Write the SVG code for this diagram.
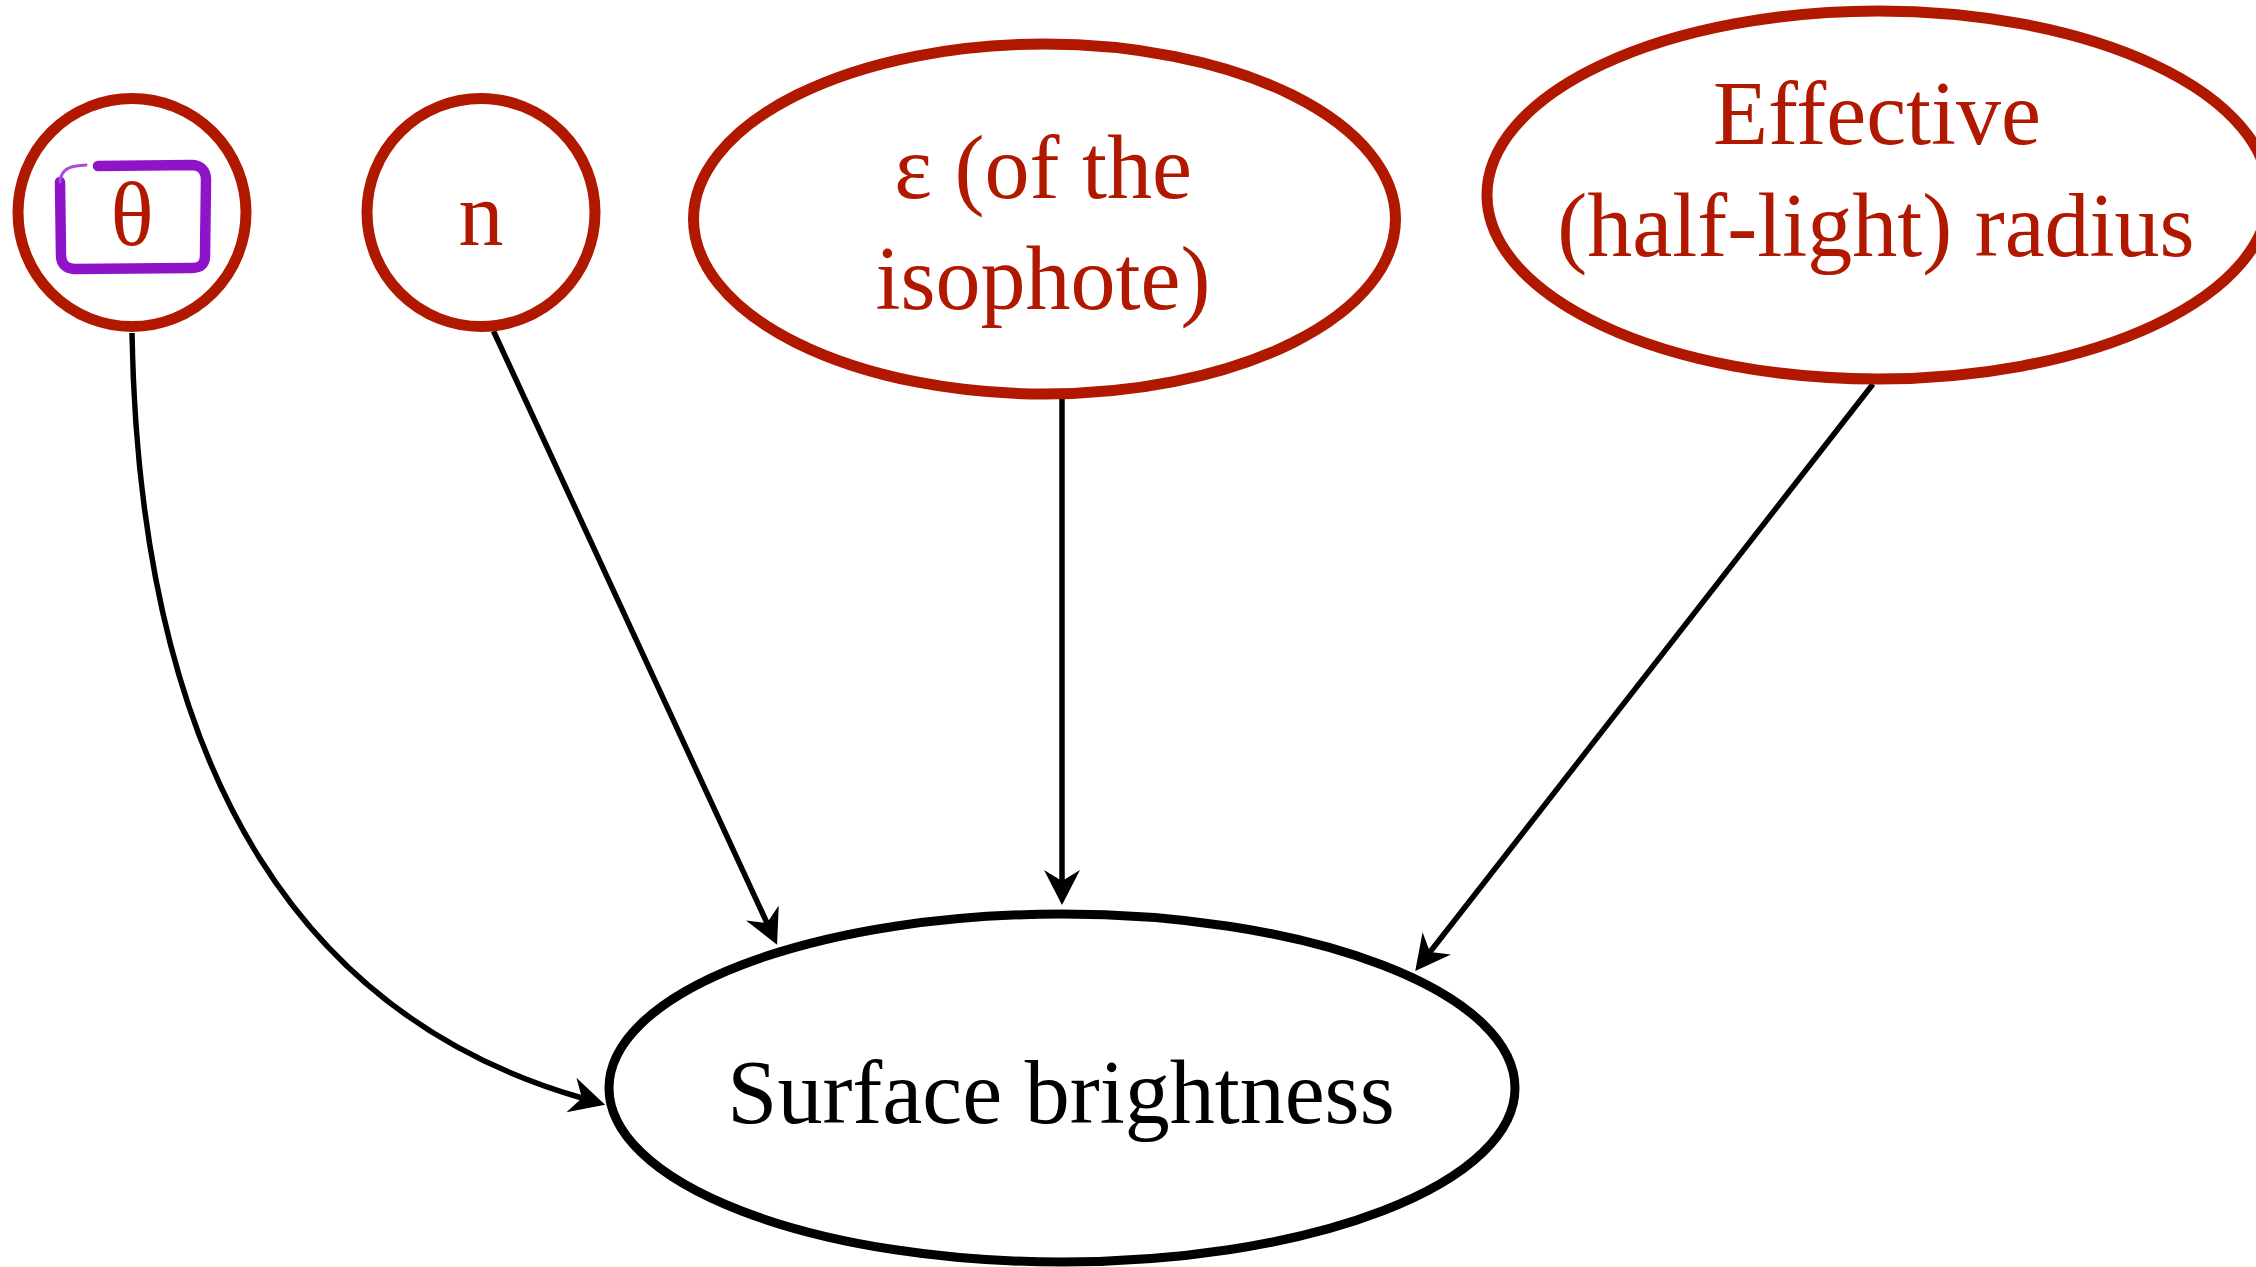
<svg xmlns="http://www.w3.org/2000/svg" width="2256" height="1267" viewBox="0 0 2256 1267">
<style>
.bg{fill:#ffffff}
.red{fill:#ffffff;stroke:#b01800;stroke-width:11}
.blk{fill:#ffffff;stroke:#000000;stroke-width:9}
.lbl{font-family:"Liberation Serif","Times New Roman",serif;font-size:90px;text-anchor:middle}
.rt{fill:#b01800}
.bt{fill:#000000}
.edge{fill:none;stroke:#000000;stroke-width:5.5}
.hl{fill:none;stroke:#8f14c9;stroke-width:10.5;stroke-linecap:round;stroke-linejoin:round}
.hlt{fill:none;stroke:#a64fd6;stroke-width:3;stroke-linecap:round}
</style>
<defs>
<marker id="arr" markerUnits="userSpaceOnUse" viewBox="0 0 36 38" refX="11" refY="19" markerWidth="36" markerHeight="38" orient="auto">
<path d="M0,1 L35,19 L0,37 L11,19 Z" fill="#000000"/>
</marker>
</defs>
<rect class="bg" x="0" y="0" width="2256" height="1267"/>
<g id="edges">
<path class="edge" d="M132,333 C140,790 314,1021 582,1098" marker-end="url(#arr)"/>
<path class="edge" d="M493.5,331 L767,923" marker-end="url(#arr)"/>
<path class="edge" d="M1062,398 L1062,881" marker-end="url(#arr)"/>
<path class="edge" d="M1873,384 L1430,952" marker-end="url(#arr)"/>
</g>
<g id="node-theta">
<circle class="red" cx="132" cy="212.5" r="114"/>
<path class="hl" d="M98,166 L192,165 Q206,166 206,180 L205,256 Q205,268 192,268 L74,269 Q61,268 61,255 L60,182"/>
<path class="hlt" d="M60,182 Q61,168 76,166 L86,165"/>
<text class="lbl rt" x="132" y="245">θ</text>
</g>
<g id="node-n">
<circle class="red" cx="481" cy="212.5" r="114"/>
<text class="lbl rt" x="481" y="245">n</text>
</g>
<g id="node-eps">
<ellipse class="red" cx="1044.5" cy="219" rx="351" ry="175"/>
<text class="lbl rt" x="1043" y="198">ε (of the</text>
<text class="lbl rt" x="1043" y="309">isophote)</text>
</g>
<g id="node-reff">
<ellipse class="red" cx="1878" cy="195" rx="391" ry="184"/>
<text class="lbl rt" x="1877" y="144">Effective</text>
<text class="lbl rt" x="1876" y="256">(half-light) radius</text>
</g>
<g id="node-sb">
<ellipse class="blk" cx="1062" cy="1088" rx="453" ry="174"/>
<text class="lbl bt" x="1061" y="1123">Surface brightness</text>
</g>
</svg>
